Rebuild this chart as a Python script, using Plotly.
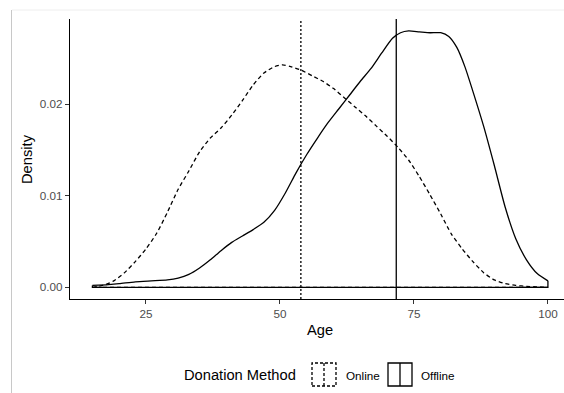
import plotly.graph_objects as go

# ---- data ----
online_age = [15, 17, 19, 21, 23, 25, 27, 29, 31, 33, 35, 37, 39, 41, 43, 45, 47, 49, 50.5,
              52, 54, 56, 58, 60, 62, 64, 66, 68, 70, 72, 74, 76, 78, 80, 82, 84, 86, 88,
              90, 92, 94, 96, 100]
online_density = [0.0000, 0.0002, 0.0007, 0.0016, 0.0028, 0.0042, 0.0059, 0.0082, 0.0107,
                  0.0127, 0.0148, 0.0163, 0.0174, 0.0188, 0.0204, 0.0221, 0.0234, 0.0241,
                  0.0243, 0.0241, 0.0237, 0.0231, 0.0225, 0.0217, 0.0207, 0.0197, 0.0187,
                  0.0176, 0.0165, 0.0153, 0.0139, 0.0121, 0.0101, 0.0080, 0.0058, 0.0042,
                  0.0028, 0.0016, 0.0008, 0.0004, 0.0002, 0.0001, 0.0000]

offline_age = [15, 18, 20, 23, 26, 29, 31, 33, 35, 37, 39, 41, 43, 45, 47, 49, 51, 53, 55,
               57, 59, 61, 63, 65, 67, 69, 71, 72.5, 74, 76, 78, 80, 81.5, 83, 84.5, 86,
               88, 90, 92, 94, 96, 98, 100]
offline_density = [0.0002, 0.0003, 0.0004, 0.0006, 0.0007, 0.0008, 0.0010, 0.0014, 0.0021,
                   0.0030, 0.0040, 0.0049, 0.0056, 0.0063, 0.0071, 0.0084, 0.0103, 0.0125,
                   0.0145, 0.0163, 0.0180, 0.0195, 0.0210, 0.0225, 0.0239, 0.0256, 0.0272,
                   0.0278, 0.0280, 0.0279, 0.0278, 0.0278, 0.0274, 0.0262, 0.0241, 0.0214,
                   0.0176, 0.0133, 0.0088, 0.0053, 0.0030, 0.0015, 0.0007]

methods = ["Online", "Offline"]
mean_age = {"Online": 53.9, "Offline": 71.7}
x_ticks = [25, 50, 75, 100]
y_ticks = [0.00, 0.01, 0.02]

# ---- layout geometry ----
W, H = 564, 393
L, R, T, B = 70, 0, 19, 94
PW, PH = W - L - R, H - T - B

def px(x):
    return (x - L) / PW

def py(y):
    return (H - B - y) / PH

FONT = "Liberation Sans, Arial, sans-serif"
dash_style = {"Online": "4px,3px", "Offline": "solid"}
series = {"Online": (online_age, online_density), "Offline": (offline_age, offline_density)}

fig = go.Figure()
for m in methods:
    a, d = series[m]
    # density curve
    fig.add_trace(go.Scatter(x=a, y=d, mode="lines", name=m, showlegend=False,
                             line=dict(color="black", width=1.3, dash=dash_style[m],
                                       shape="spline", smoothing=0.6),
                             hoverinfo="skip"))
    # closing outline down to the baseline
    fig.add_trace(go.Scatter(x=[a[-1], a[-1], a[0], a[0]], y=[d[-1], 0, 0, d[0]],
                             mode="lines", showlegend=False, hoverinfo="skip",
                             line=dict(color="black", width=1.3, dash=dash_style[m])))

shapes = []
# mean lines
shapes.append(dict(type="line", xref="x", yref="paper", x0=mean_age["Online"], x1=mean_age["Online"],
                   y0=0, y1=1, line=dict(color="black", width=1.3, dash="2px,2px")))
shapes.append(dict(type="line", xref="x", yref="paper", x0=mean_age["Offline"], x1=mean_age["Offline"],
                   y0=0, y1=1, line=dict(color="black", width=1.3)))
# light frame of the image
shapes.append(dict(type="line", xref="paper", yref="paper", x0=px(11.5), x1=px(11.5),
                   y0=py(10), y1=py(393), line=dict(color="#C8C8C8", width=1)))
shapes.append(dict(type="line", xref="paper", yref="paper", x0=px(12), x1=px(564),
                   y0=py(10), y1=py(10), line=dict(color="#EEEEEE", width=1)))
# legend keys
for (x0, x1, dash) in [(312, 336, "3px,2px"), (388, 412, "solid")]:
    shapes.append(dict(type="rect", xref="paper", yref="paper", x0=px(x0), x1=px(x1),
                       y0=py(386), y1=py(363), line=dict(color="black", width=1.3, dash=dash)))
    xm = (x0 + x1) / 2
    shapes.append(dict(type="line", xref="paper", yref="paper", x0=px(xm), x1=px(xm),
                       y0=py(386), y1=py(363), line=dict(color="black", width=1.3, dash=dash)))

annotations = [
    dict(text="Density", x=px(27), y=py(159), xref="paper", yref="paper", textangle=-90,
         showarrow=False, xanchor="center", yanchor="middle",
         font=dict(family=FONT, size=14.7, color="black")),
    dict(text="Age", x=px(320), y=py(330), xref="paper", yref="paper",
         showarrow=False, xanchor="center", yanchor="middle",
         font=dict(family=FONT, size=14.7, color="black")),
    dict(text="Donation Method", x=px(182), y=py(375), xref="paper", yref="paper",
         showarrow=False, xanchor="left", yanchor="middle",
         font=dict(family=FONT, size=14.7, color="black")),
    dict(text="Online", x=px(344), y=py(375), xref="paper", yref="paper",
         showarrow=False, xanchor="left", yanchor="middle",
         font=dict(family=FONT, size=11.7, color="black")),
    dict(text="Offline", x=px(419), y=py(375), xref="paper", yref="paper",
         showarrow=False, xanchor="left", yanchor="middle",
         font=dict(family=FONT, size=11.7, color="black")),
]

fig.update_layout(
    width=W, height=H, margin=dict(l=L, r=R, t=T, b=B, pad=0),
    paper_bgcolor="white", plot_bgcolor="white",
    font=dict(family=FONT, color="black"),
    shapes=shapes, annotations=annotations, showlegend=False,
    xaxis=dict(range=[10.82, 103.0], tickvals=x_ticks, ticks="outside", ticklen=4,
               tickwidth=1, tickcolor="#333333", showline=True, linecolor="black",
               linewidth=1.2, showgrid=False, zeroline=False,
               tickfont=dict(family=FONT, size=11.7, color="#4D4D4D")),
    yaxis=dict(range=[-0.00128, 0.0293], tickvals=y_ticks, tickformat=".2f", ticks="outside",
               ticklen=4, tickwidth=1, tickcolor="#333333", showline=True, linecolor="black",
               linewidth=1.2, showgrid=False, zeroline=False,
               tickfont=dict(family=FONT, size=11.7, color="#4D4D4D")),
)

fig.write_html("out.html")
